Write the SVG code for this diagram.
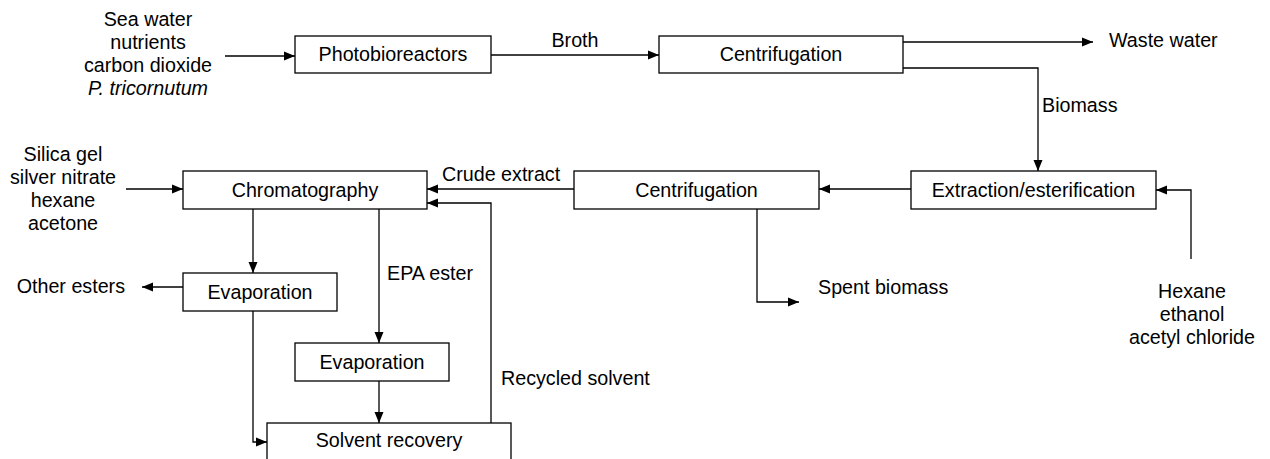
<svg xmlns="http://www.w3.org/2000/svg" width="1270" height="459" viewBox="0 0 1270 459">
  <style>
    text { font-family: "Liberation Sans", Arial, sans-serif; font-size: 19.7px; fill: #000; }
    .c { text-anchor: middle; }
    .box { fill: #fff; stroke: #000; stroke-width: 1.3; }
    .ln { fill: none; stroke: #000; stroke-width: 1.3; }
  </style>
  <defs>
    <marker id="arrow" markerUnits="userSpaceOnUse" markerWidth="11" markerHeight="10" refX="11" refY="5" orient="auto">
      <path d="M0,0.5 L11,5 L0,9.5 z" fill="#000"/>
    </marker>
  </defs>

  <!-- process flows -->
  <g id="connectors">
    <line class="ln" x1="225" y1="56" x2="295" y2="56" marker-end="url(#arrow)"/>
    <line class="ln" x1="491" y1="55" x2="659" y2="55" marker-end="url(#arrow)"/>
    <line class="ln" x1="903" y1="42" x2="1093" y2="42" marker-end="url(#arrow)"/>
    <polyline class="ln" points="903,68 1038,68 1038,171" marker-end="url(#arrow)"/>
    <polyline class="ln" points="1191,259 1191,190 1156,190" marker-end="url(#arrow)"/>
    <line class="ln" x1="911" y1="189" x2="819" y2="189" marker-end="url(#arrow)"/>
    <polyline class="ln" points="757,209 757,302 799,302" marker-end="url(#arrow)"/>
    <line class="ln" x1="574" y1="189" x2="427" y2="189" marker-end="url(#arrow)"/>
    <polyline class="ln" points="491,423 491,203 427,203" marker-end="url(#arrow)"/>
    <line class="ln" x1="126" y1="189" x2="183" y2="189" marker-end="url(#arrow)"/>
    <line class="ln" x1="253" y1="209" x2="253" y2="273" marker-end="url(#arrow)"/>
    <line class="ln" x1="183" y1="287" x2="142" y2="287" marker-end="url(#arrow)"/>
    <polyline class="ln" points="253,311 253,442 267,442" marker-end="url(#arrow)"/>
    <line class="ln" x1="379" y1="209" x2="379" y2="343" marker-end="url(#arrow)"/>
    <line class="ln" x1="379" y1="381" x2="379" y2="423" marker-end="url(#arrow)"/>
  </g>

  <!-- stream labels -->
  <g id="labels">
    <text x="575" y="47" class="c">Broth</text>
    <text x="1109" y="47">Waste water</text>
    <text x="1042" y="112">Biomass</text>
    <text x="442" y="181">Crude extract</text>
    <text x="818" y="294">Spent biomass</text>
    <text x="387" y="280">EPA ester</text>
    <text x="501" y="385">Recycled solvent</text>
    <text x="125" y="293" text-anchor="end">Other esters</text>
  </g>

  <!-- feed streams -->
  <g id="feed-culture">
    <text x="148" y="26" class="c">Sea water</text>
    <text x="148" y="49" class="c">nutrients</text>
    <text x="148" y="72" class="c">carbon dioxide</text>
    <text x="148" y="95" class="c" font-style="italic">P. tricornutum</text>
  </g>
  <g id="feed-chromatography">
    <text x="63" y="161" class="c">Silica gel</text>
    <text x="63" y="184" class="c">silver nitrate</text>
    <text x="63" y="207" class="c">hexane</text>
    <text x="63" y="230" class="c">acetone</text>
  </g>
  <g id="feed-extraction">
    <text x="1192" y="298" class="c">Hexane</text>
    <text x="1192" y="321" class="c">ethanol</text>
    <text x="1192" y="344" class="c">acetyl chloride</text>
  </g>

  <!-- unit operations -->
  <g id="photobioreactors">
    <rect class="box" x="295" y="36" width="196" height="37"/>
    <text x="393" y="61" class="c">Photobioreactors</text>
  </g>
  <g id="centrifugation-1">
    <rect class="box" x="659" y="36" width="244" height="37"/>
    <text x="781" y="61" class="c">Centrifugation</text>
  </g>
  <g id="extraction">
    <rect class="box" x="911" y="171" width="245" height="38"/>
    <text x="1033.5" y="197" class="c">Extraction/esterification</text>
  </g>
  <g id="centrifugation-2">
    <rect class="box" x="574" y="171" width="245" height="38"/>
    <text x="696.5" y="197" class="c">Centrifugation</text>
  </g>
  <g id="chromatography">
    <rect class="box" x="183" y="171" width="244" height="38"/>
    <text x="305" y="197" class="c">Chromatography</text>
  </g>
  <g id="evaporation-1">
    <rect class="box" x="183" y="273" width="154" height="38"/>
    <text x="260" y="299" class="c">Evaporation</text>
  </g>
  <g id="evaporation-2">
    <rect class="box" x="295" y="343" width="154" height="38"/>
    <text x="372" y="369" class="c">Evaporation</text>
  </g>
  <g id="solvent-recovery">
    <rect class="box" x="267" y="423" width="244" height="40"/>
    <text x="389" y="447" class="c">Solvent recovery</text>
  </g>
</svg>
